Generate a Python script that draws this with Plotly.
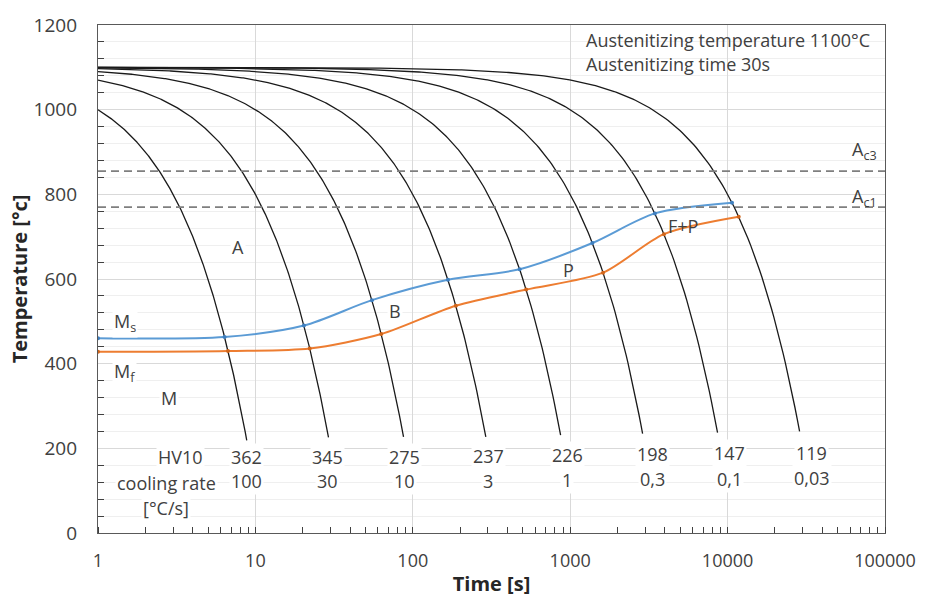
import numpy as np
import plotly.graph_objects as go

# ---------------- data ----------------
T_AUST = 1100                      # austenitizing temperature [°C]
cooling_rates = [100, 30, 10, 3, 1, 0.3, 0.1, 0.03]      # [°C/s]
rate_labels = ["100", "30", "10", "3", "1", "0,3", "0,1", "0,03"]
hv10 = ["362", "345", "275", "237", "226", "198", "147", "119"]
end_temps = [219, 226, 227, 227, 231, 235, 237, 240]     # where each curve stops [°C]

# transformation start (blue) and finish (orange) temperatures at each cooling curve
ms_start_T = 460
start_T = [463, 490, 550, 598, 623, 685, 755, 780]
mf_start_T = 428
finish_T = [430, 436, 470, 537, 575, 615, 706, 747]

AC3 = 855
AC1 = 770

# ---------------- styling ----------------
FONT = "Open Sans"
TXT = "#404040"
BLUE = "#5B9BD5"
ORANGE = "#ED7D31"

fig = go.Figure()

# cooling curves (constant cooling rate from austenitizing temperature)
for r, te in zip(cooling_rates, end_temps):
    t_end = (T_AUST - te) / r
    t = np.geomspace(1, t_end, 300)
    fig.add_trace(go.Scatter(x=t, y=T_AUST - r * t, mode="lines",
                             line=dict(color="#1a1a1a", width=1.3),
                             hoverinfo="skip", showlegend=False))

# transformation start line
bt = [1] + [(T_AUST - T) / r for T, r in zip(start_T, cooling_rates)]
bT = [ms_start_T] + start_T
fig.add_trace(go.Scatter(x=bt, y=bT, mode="lines+markers",
                         line=dict(color=BLUE, width=2, shape="spline", smoothing=0.8),
                         marker=dict(size=4, color="#3f7fbf"),
                         showlegend=False))
# transformation finish line
ot = [1] + [(T_AUST - T) / r for T, r in zip(finish_T, cooling_rates)]
oT = [mf_start_T] + finish_T
fig.add_trace(go.Scatter(x=ot, y=oT, mode="lines+markers",
                         line=dict(color=ORANGE, width=2, shape="spline", smoothing=0.8),
                         marker=dict(size=4, color="#d0651b"),
                         showlegend=False))

# Ac3 / Ac1 lines
for v in (AC3, AC1):
    fig.add_hline(y=v, line=dict(color="#7f7f7f", width=1.8, dash="8px,5px"))

# ---------------- annotations ----------------
def ann(x, y, text, size=18, bg="white", xanchor="center", **kw):
    fig.add_annotation(x=x, y=y, text=text, showarrow=False,
                       font=dict(family=FONT, size=size, color=TXT),
                       bgcolor=bg, xanchor=xanchor, yanchor="middle", borderpad=1, **kw)

ann(0.891, 676, "A")
ann(1.888, 525, "B")
ann(2.992, 622, "P", bg="rgba(255,255,255,0)")
ann(3.714, 725, "F+P", bg="rgba(255,255,255,0)")
ann(0.452, 319, "M")
ann(0.17, 498, "M<sub>s</sub>")
ann(0.17, 380, "M<sub>f</sub>")
ann(4.87, 903, "A<sub>c3</sub>", bg="rgba(255,255,255,0)")
ann(4.87, 793, "A<sub>c1</sub>", bg="rgba(255,255,255,0)")

ann(0.527, 179, "HV10")
ann(0.433, 119, "cooling rate")
ann(0.433, 60, "[°C/s]")

label_x = [0.941, 1.455, 1.945, 2.478, 2.98, 3.52, 4.01, 4.536]
hv_y = [179, 179, 179, 181, 185, 187, 190, 190]
rate_y = [122, 122, 122, 124, 126, 128, 128, 130]
for lx, h, rl, hy, ry in zip(label_x, hv10, rate_labels, hv_y, rate_y):
    ann(lx, hy, h)
    ann(lx, ry, rl)

ann(3.087, 1164, "Austenitizing temperature 1100°C", size=18, xanchor="left", bg="rgba(255,255,255,0)")
ann(3.087, 1108, "Austenitizing time 30s", size=18, xanchor="left", bg="rgba(255,255,255,0)")

# ---------------- layout ----------------
fig.update_layout(
    width=928, height=604,
    margin=dict(l=98, r=33, t=23, b=67),
    paper_bgcolor="white", plot_bgcolor="white",
    font=dict(family=FONT, color=TXT),
    showlegend=False,
    xaxis=dict(
        type="log", range=[0, 5], dtick=1,
        tickvals=[1, 10, 100, 1000, 10000, 100000],
        ticktext=["1", "10", "100", "1000", "10000", "100000"],
        tickfont=dict(size=18, color=TXT, family=FONT),
        showgrid=True, gridcolor="#d9d9d9", gridwidth=1,
        ticks="", ticklabelstandoff=11,
        minor=dict(dtick="D1", ticks="inside", ticklen=6, tickcolor="#404040", showgrid=False),
        showline=True, linecolor="#595959", linewidth=1.3, mirror=True,
        zeroline=False,
        title=dict(text="<b>Time [s]</b>", font=dict(size=20, color="#262626", family=FONT), standoff=6),
    ),
    yaxis=dict(
        range=[0, 1200], dtick=200,
        tickfont=dict(size=19, color=TXT, family=FONT),
        showgrid=True, gridcolor="#d9d9d9", gridwidth=1,
        ticks="", ticklabelstandoff=16,
        minor=dict(dtick=40, ticks="inside", ticklen=6, tickcolor="#404040",
                   showgrid=True, gridcolor="#efefef", gridwidth=1),
        showline=True, linecolor="#595959", linewidth=1.3, mirror=True,
        zeroline=False,
        title=dict(text="<b>Temperature [°c]</b>", font=dict(size=20, color="#262626", family=FONT), standoff=0),
    ),
)

fig.write_html("out.html")
